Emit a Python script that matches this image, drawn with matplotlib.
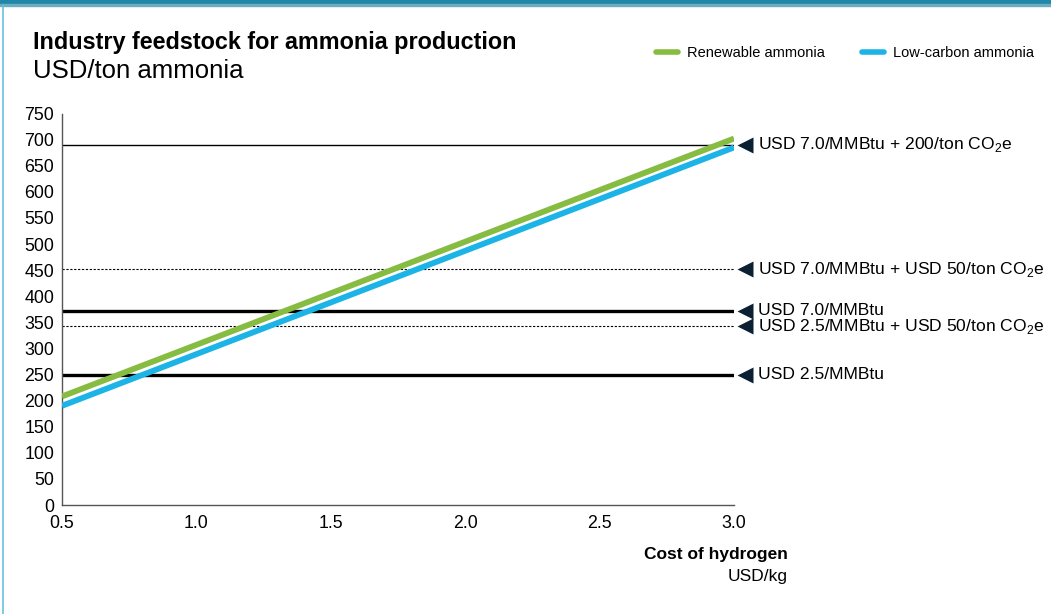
import numpy as np
import matplotlib
matplotlib.use("Agg")
import matplotlib.pyplot as plt
from matplotlib.patches import Rectangle
from matplotlib.lines import Line2D

plt.rcParams['font.family'] = ['Liberation Sans', 'DejaVu Sans']
plt.rcParams['mathtext.fontset'] = 'custom'
plt.rcParams['mathtext.rm'] = 'Liberation Sans'

# Data
h2_cost = [0.5, 3.0]                  # USD/kg
renewable = [208, 702]                # USD/ton ammonia
low_carbon = [190, 685]
ref_values = [690, 452, 372, 342, 250]
ref_labels = [r"USD 7.0/MMBtu + 200/ton CO$_\mathregular{2}$e",
              r"USD 7.0/MMBtu + USD 50/ton CO$_\mathregular{2}$e",
              "USD 7.0/MMBtu",
              r"USD 2.5/MMBtu + USD 50/ton CO$_\mathregular{2}$e",
              "USD 2.5/MMBtu"]
ref_styles = [dict(ls='-', lw=1.0), dict(ls=(0, (2, 1.5)), lw=0.8),
              dict(ls='-', lw=2.4), dict(ls=(0, (2, 1.5)), lw=0.8),
              dict(ls='-', lw=2.4)]
xticks = [0.5, 1.0, 1.5, 2.0, 2.5, 3.0]
yticks = list(range(0, 751, 50))

green = '#86bc42'
blue = '#1cb4e6'
navy = '#0b2033'

fig = plt.figure(figsize=(10.51, 6.14), dpi=100)
W, H = 1051, 614

# header band and left border
fig.patches.append(Rectangle((0, 1 - 4 / H), 1, 4 / H, transform=fig.transFigure,
                             color='#2087a8', zorder=0))
fig.patches.append(Rectangle((0, 1 - 6 / H), 1, 2 / H, transform=fig.transFigure,
                             color='#6aaebf', zorder=0))
fig.add_artist(Line2D([3 / W, 3 / W], [0, 1 - 6 / H], transform=fig.transFigure,
                      color='#6bbfdc', lw=1.2))

ax = fig.add_axes([62 / W, 1 - 505 / H, (734 - 62) / W, (505 - 113.5) / H])
ax.set_xlim(0.5, 3.0)
ax.set_ylim(0, 750)

for v, lab, st in zip(ref_values, ref_labels, ref_styles):
    ax.plot(h2_cost, [v, v], color='black', zorder=2, **st)
    ax.plot([3.0 + 0.042], [v], marker='<', ms=11, color=navy, clip_on=False,
            mec='none', zorder=3)
    ax.annotate(lab, xy=(3.0, v), xytext=(17, 0), textcoords='offset points',
                ha='left', va='center', fontsize=12.6, color='black',
                annotation_clip=False)

ax.plot(h2_cost, renewable, color=green, lw=4.2, solid_capstyle='butt', zorder=4)
ax.plot(h2_cost, low_carbon, color=blue, lw=4.2, solid_capstyle='butt', zorder=4)

for s in ['top', 'right']:
    ax.spines[s].set_visible(False)
for s in ['left', 'bottom']:
    ax.spines[s].set_color('#555555')
    ax.spines[s].set_linewidth(1.0)
ax.set_xticks(xticks)
ax.set_xticklabels([f"{x:.1f}" for x in xticks])
ax.set_yticks(yticks)
ax.tick_params(length=0, labelsize=12.8)
ax.tick_params(axis='y', pad=5.5)
ax.tick_params(axis='x', pad=7.5)

# titles
fig.text(33 / W, 1 - 43 / H, "Industry feedstock for ammonia production",
         fontsize=16.8, fontweight='bold', va='center', ha='left')
fig.text(33 / W, 1 - 71 / H, "USD/ton ammonia", fontsize=18.5, va='center', ha='left')

# x axis title
fig.text(788 / W, 1 - 554 / H, "Cost of hydrogen", fontsize=12.5, fontweight='bold',
         ha='right', va='center')
fig.text(788 / W, 1 - 577 / H, "USD/kg", fontsize=12.5, ha='right', va='center')

# legend
handles = [Line2D([], [], color=green, lw=4, solid_capstyle='round'),
           Line2D([], [], color=blue, lw=4, solid_capstyle='round')]
fig.legend(handles, ["Renewable ammonia", "Low-carbon ammonia"],
           loc='center right', bbox_to_anchor=(1034 / W, 1 - 53 / H), ncol=2,
           frameon=False, fontsize=10.5, handlelength=1.5, handletextpad=0.6,
           columnspacing=2.6, borderaxespad=0, borderpad=0)

fig.savefig('out.png', dpi=100)
